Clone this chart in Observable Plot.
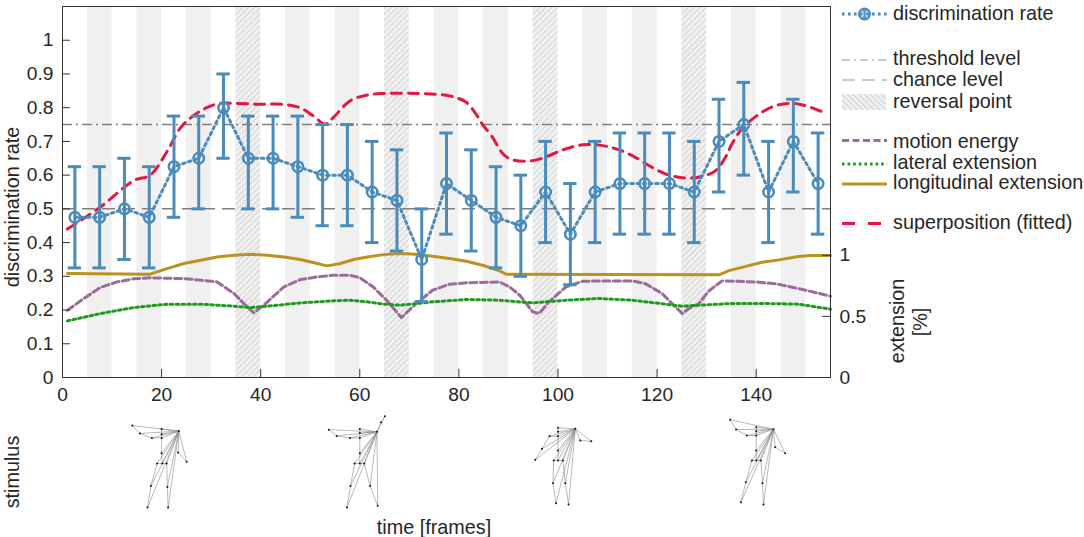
<!DOCTYPE html>
<html>
<head>
<meta charset="utf-8">
<script src="https://cdn.jsdelivr.net/npm/d3@7"></script>
<script src="https://cdn.jsdelivr.net/npm/@observablehq/plot@0.6"></script>
<style>
  body { margin: 0; background: #fff; }
  #wrap { position: relative; width: 1084px; height: 537px; overflow: hidden; background: #fff;
          font-family: "Liberation Sans", Arial, Helvetica, sans-serif; }
  #wrap svg { position: absolute; left: 0; }
</style>
</head>
<body>
<div id="wrap"></div>
<script>
// ---------------- data ----------------
const frames   = [2.5,7.5,12.5,17.5,22.5,27.5,32.5,37.5,42.5,47.5,52.5,57.5,62.5,67.5,72.5,77.5,82.5,87.5,92.5,97.5,102.5,107.5,112.5,117.5,122.5,127.5,132.5,137.5,142.5,147.5,152.5];
const rate     = [0.475,0.475,0.5,0.475,0.625,0.65,0.8,0.65,0.65,0.625,0.6,0.6,0.55,0.525,0.35,0.575,0.525,0.475,0.45,0.55,0.425,0.55,0.575,0.575,0.575,0.55,0.7,0.75,0.55,0.7,0.575];
const rateLow  = [0.325,0.325,0.35,0.325,0.475,0.5,0.65,0.5,0.5,0.475,0.45,0.45,0.4,0.375,0.225,0.425,0.375,0.325,0.3,0.4,0.275,0.4,0.425,0.425,0.425,0.4,0.55,0.6,0.4,0.55,0.425];
const rateHigh = [0.625,0.625,0.65,0.625,0.775,0.775,0.9,0.775,0.775,0.775,0.75,0.75,0.7,0.675,0.5,0.725,0.675,0.625,0.6,0.7,0.575,0.7,0.725,0.725,0.725,0.7,0.825,0.875,0.7,0.825,0.725];

const supX = [1,7.6,14.4,17.7,21.1,23.8,26.4,29.1,31.8,34.5,39.9,44.6,47.9,50.6,53,54.6,58,61.3,64.7,72,78.1,81.5,83.5,84.8,86.8,88.9,90.9,94.9,98.2,101.6,105,108.3,111.7,115,118.4,121.7,125.1,128.4,131.8,133.8,135.1,137.1,140.5,143.9,147.2,150,153.3];
const supY = [0.44,0.505,0.584,0.6,0.67,0.74,0.776,0.8,0.813,0.813,0.81,0.81,0.8,0.776,0.751,0.77,0.82,0.837,0.842,0.842,0.835,0.816,0.78,0.75,0.712,0.663,0.645,0.643,0.658,0.678,0.69,0.689,0.678,0.658,0.628,0.604,0.592,0.594,0.613,0.653,0.692,0.737,0.78,0.806,0.813,0.806,0.788];

// extension-axis series (right axis, 0..1)
const lonX = [1,17.7,21.1,24.5,27.9,31.2,34.6,38,41.3,44.7,48,51.4,53.4,56.1,58.8,61.5,64.8,68,71.5,74.7,78.1,81.5,84.8,88.2,89.5,132.5,134.5,138.5,141.2,144.6,148.5,151,155];
const lonY = [0.85,0.845,0.891,0.932,0.959,0.986,1.0,1.008,1.0,0.986,0.965,0.932,0.913,0.932,0.965,0.986,1.005,1.014,1.008,0.992,0.973,0.951,0.918,0.872,0.845,0.84,0.874,0.915,0.942,0.962,0.99,0.997,0.997];

const latX = [1,7.65,14.4,21.1,27.9,34.6,38,41.3,48,54.7,58,61.5,64.8,68.2,74.7,81.5,88.2,94.9,101.6,108.3,115,121.7,125.1,128.4,135.1,141.8,148.5,155];
const latY = [0.463,0.523,0.572,0.6,0.6,0.583,0.572,0.583,0.61,0.627,0.632,0.619,0.6,0.591,0.619,0.638,0.632,0.61,0.632,0.646,0.632,0.6,0.583,0.591,0.605,0.605,0.6,0.559];

const motX = [1,4.3,7.65,11,14.4,17.7,24.5,27.9,31.2,34.6,36.6,38.6,40.6,42.6,44.7,48,51.4,54.7,58,60,62.7,65.4,68.4,71.4,74.7,78.1,81.5,88.2,90.2,92.3,94.9,96.2,98.2,101.6,105,108.3,115,117.6,121,123.7,125.1,126.4,128.4,130.5,133.1,136.5,140.5,144.1,148.5,155];
const motY = [0.55,0.646,0.736,0.782,0.807,0.815,0.809,0.796,0.782,0.687,0.605,0.529,0.591,0.665,0.741,0.801,0.823,0.837,0.837,0.817,0.741,0.632,0.49,0.605,0.714,0.763,0.774,0.782,0.741,0.673,0.537,0.523,0.619,0.741,0.787,0.79,0.79,0.768,0.687,0.578,0.523,0.564,0.602,0.71,0.79,0.787,0.78,0.765,0.728,0.665];

// background bands (frames)
const grayBandStarts  = [5,15,25,45,55,75,85,105,115,135,145];
const reversalStarts  = [35,65,95,125];
const bandWidth = 5;

const chanceLevel = 0.5;
const thresholdLevel = 0.75;

const xTicks = [0,20,40,60,80,100,120,140];
const yTicks = [0,0.1,0.2,0.3,0.4,0.5,0.6,0.7,0.8,0.9,1];
const extTicks = [0,0.5,1];

// stimulus skeletons: anchor frame, vertical shift (px), joints (px offsets from neck)
const figFrames = [20,60,100,140];
const figShift  = [0,0,-1.2,-1.8];
const figJoints = [
  {A:[-29.3,-3.4],B:[-21.7,4.5],C:[-9.7,9],D:[0,0],E:[0,5.2],F:[0,9],H:[17.2,2.1],S:[0,24.2],hL:[-4.5,34.5],hC:[0.7,34.5],hR:[5.1,34.5],kL:[-10.7,56.9],kR:[5.8,57.9],fL:[-14.1,78.6],fR:[6.5,78.6],eR:[16.5,23.5],wR:[25.1,32.8]},
  {A:[-31,0.7],B:[-23.1,6.9],C:[-9.7,9],D:[0,0],E:[0,4],F:[0,9],H:[17.2,2.8],S:[0,24.2],hL:[-5.2,34.5],hC:[0,34.5],hR:[4.5,34.5],kL:[-9.3,56.9],kR:[10.3,56.9],fL:[-12.8,78.5],fR:[17.9,76.8],eR:[21.3,-6.8],wR:[25.1,-12.7]},
  {A:[-22.7,32],B:[-16,21],C:[-8.4,8.4],D:[0,0],E:[0,4],F:[0,8.5],H:[17.3,1],S:[0,22.7],hL:[-4.3,32.7],hC:[0,32.7],hR:[5,32.7],kL:[-5,55.4],kR:[7.3,55.4],fL:[-2,75.4],fR:[10.6,76.7],eR:[22.3,12.7],wR:[33.3,13.4]},
  {A:[-26,-7.4],B:[-20,2.3],C:[-9.3,8.3],D:[0,0],E:[0,4],F:[0,8.3],H:[17.3,2],S:[0,23.3],hL:[-4.3,33.3],hC:[0,33.3],hR:[4.7,33.3],kL:[-10.3,55],kR:[6.3,56],fL:[-15.3,75],fR:[7.3,77.3],eR:[19,20],wR:[29,26]}
];
const boneList = [["A","B"],["B","C"],["C","F"],["D","E"],["E","F"],["F","S"],["S","hC"],["hL","hC"],["hC","hR"],
  ["hL","kL"],["kL","fL"],["hR","kR"],["kR","fR"],["H","eR"],["eR","wR"],
  ["H","A"],["H","B"],["H","C"],["H","D"],["H","E"],["H","F"],["H","S"],["H","hL"],["H","hC"],["H","hR"],
  ["H","kL"],["H","kR"],["H","fL"],["H","fR"],["H","wR"]];

// ---------------- styles ----------------
const C = {
  blue: "#4a8bbb", red: "#e5173f", purple: "#9a6c9b", green: "#1e9a1e", gold: "#bb921f",
  band: "#f0f0f0", ref: "#7f7f7f", legendRef: "#b8b8b8", text: "#262626"
};
const FONT = "Liberation Sans, Arial, Helvetica, sans-serif";
const W = 1084;
const mL = 62, mR = 254, mT = 6, mB = 33, H1 = 410;
const K = 0.3625;               // extension unit in discrimination-rate units
const fmt = d => String(+(+d).toFixed(2));

// ---------------- tables ----------------
const pts = frames.map((x, i) => ({x, y: rate[i], lo: rateLow[i], hi: rateHigh[i]}));
const sup = supX.map((x, i) => ({x, y: supY[i]}));
const lon = lonX.map((x, i) => ({x, y: lonY[i]}));
const lat = latX.map((x, i) => ({x, y: latY[i]}));
const mot = motX.map((x, i) => ({x, y: motY[i]}));
const grayBands = grayBandStarts.map(s => ({x1: s, x2: s + bandWidth}));
const revBands = reversalStarts.map(s => ({x1: s, x2: s + bandWidth}));
const capHalf = 1.35;           // frames
const tickLenX = 1.6;           // frames
const tickLenY = 0.024;         // rate units

const main = Plot.plot({
  width: W, height: H1,
  marginLeft: mL, marginRight: mR, marginTop: mT, marginBottom: mB,
  x: {domain: [0, 155]},
  y: {domain: [0, 1.1]},
  style: {fontFamily: FONT, fontSize: "19px", color: C.text, background: "transparent", overflow: "visible"},
  marks: [
    Plot.rect(grayBands, {x1: "x1", x2: "x2", y1: 0, y2: 1.1, fill: C.band}),
    Plot.rect(revBands, {x1: "x1", x2: "x2", y1: 0, y2: 1.1, fill: C.band}),
    Plot.rect(revBands, {x1: "x1", x2: "x2", y1: 0, y2: 1.1, fill: "url(#hatchPlot)"}),
    Plot.ruleY([chanceLevel], {stroke: C.ref, strokeWidth: 1.5, strokeDasharray: "13,7"}),
    Plot.ruleY([thresholdLevel], {stroke: C.ref, strokeWidth: 1.5, strokeDasharray: "10,4,2,4"}),
    Plot.line(lon, {x: "x", y: d => d.y * K, stroke: C.gold, strokeWidth: 3}),
    Plot.line(mot, {x: "x", y: d => d.y * K, stroke: C.purple, strokeWidth: 3, strokeDasharray: "7,3.5"}),
    Plot.line(lat, {x: "x", y: d => d.y * K, stroke: C.green, strokeWidth: 3, strokeDasharray: "2.6,3.2"}),
    Plot.line(sup, {x: "x", y: "y", stroke: C.red, strokeWidth: 3, strokeDasharray: "10,7", curve: "catmull-rom"}),
    Plot.line(pts, {x: "x", y: "y", stroke: C.blue, strokeWidth: 3, strokeDasharray: "2.6,3.6"}),
    Plot.ruleX(pts, {x: "x", y1: "lo", y2: "hi", stroke: C.blue, strokeWidth: 3}),
    Plot.ruleY(pts, {y: "lo", x1: d => d.x - capHalf, x2: d => d.x + capHalf, stroke: C.blue, strokeWidth: 3}),
    Plot.ruleY(pts, {y: "hi", x1: d => d.x - capHalf, x2: d => d.x + capHalf, stroke: C.blue, strokeWidth: 3}),
    Plot.dot(pts, {x: "x", y: "y", r: 5.2, stroke: C.blue, strokeWidth: 2.6, fill: "none"}),
    Plot.frame({stroke: "#333", strokeWidth: 1}),
    Plot.ruleY(yTicks, {x1: 0, x2: tickLenX, stroke: "#333", strokeWidth: 1}),
    Plot.ruleX(xTicks, {y1: 0, y2: tickLenY, stroke: "#333", strokeWidth: 1}),
    Plot.ruleY(extTicks.map(v => v * K), {x1: 155 - tickLenX, x2: 155, stroke: "#333", strokeWidth: 1}),
    Plot.axisY({ticks: yTicks, tickSize: 0, tickPadding: 9, tickFormat: fmt, label: null, fontSize: 19.2}),
    Plot.axisY({anchor: "right", ticks: extTicks.map(v => v * K), tickSize: 0, tickPadding: 9, tickFormat: d => fmt(d / K), label: null, fontSize: 19.2}),
    Plot.axisX({ticks: xTicks, tickSize: 0, tickPadding: 10, label: null, fontSize: 19.2})
  ]
});
main.style.top = "0px";

// hatch pattern defs
const defs = d3.select(main).insert("defs", ":first-child");
defs.append("pattern").attr("id", "hatchPlot").attr("patternUnits", "userSpaceOnUse")
  .attr("width", 4.2).attr("height", 4.2).attr("patternTransform", "rotate(45)")
  .append("line").attr("x1", 0.5).attr("y1", 0).attr("x2", 0.5).attr("y2", 4.2)
  .attr("stroke", "#c6c6c6").attr("stroke-width", 0.7);

// ---------------- stimulus strip ----------------
const pxPerFrame = (W - mL - mR) / 155;
const joints = [], bones = [];
figJoints.forEach((J, f) => {
  const jx = n => figFrames[f] + J[n][0] / pxPerFrame;
  const jy = n => J[n][1] + figShift[f];
  Object.keys(J).forEach(n => joints.push({x: jx(n), y: jy(n)}));
  boneList.forEach(([a, b]) => bones.push({x1: jx(a), y1: jy(a), x2: jx(b), y2: jy(b)}));
});
const H2 = 137;
const stim = Plot.plot({
  width: W, height: H2,
  marginLeft: mL, marginRight: mR, marginTop: 0, marginBottom: 0,
  x: {domain: [0, 155], axis: null},
  y: {domain: [-28.5, H2 - 28.5], range: [0, H2], axis: null},
  style: {background: "transparent"},
  marks: [
    Plot.link(bones, {x1: "x1", y1: "y1", x2: "x2", y2: "y2", stroke: "#8a8a8a", strokeWidth: 0.6}),
    Plot.dot(joints, {x: "x", y: "y", r: 1, fill: "#111"})
  ]
});
stim.style.top = "400px";

const wrap = document.getElementById("wrap");
wrap.appendChild(main);
wrap.appendChild(stim);

// ---------------- overlay: labels + legend ----------------
const ov = d3.select(wrap).append("svg").attr("width", W).attr("height", 537)
  .style("top", "0px").style("font-family", FONT).style("font-size", "19.8px").attr("fill", C.text);
const odefs = ov.append("defs");
odefs.append("pattern").attr("id", "hatchLeg").attr("patternUnits", "userSpaceOnUse")
  .attr("width", 4).attr("height", 4).attr("patternTransform", "rotate(-45)")
  .append("line").attr("x1", 0.5).attr("y1", 0).attr("x2", 0.5).attr("y2", 4)
  .attr("stroke", "#c6c6c6").attr("stroke-width", 0.8);

ov.append("text").attr("transform", "translate(18.5,207) rotate(-90)").attr("text-anchor", "middle").text("discrimination rate");
ov.append("text").attr("transform", "translate(18.5,472) rotate(-90)").attr("text-anchor", "middle").text("stimulus");
ov.append("text").attr("x", 434).attr("y", 534).attr("text-anchor", "middle").text("time [frames]");
ov.append("text").attr("transform", "translate(904,321) rotate(-90)").attr("text-anchor", "middle").text("extension");
ov.append("text").attr("transform", "translate(927,322) rotate(-90)").attr("text-anchor", "middle").text("[%]");

const lx0 = 842, lx1 = 887, tx = 893;
const legend = [
  {label: "discrimination rate", ly: 14, ty: 20, kind: "rate"},
  {label: "threshold level", ly: 60, ty: 65, stroke: C.legendRef, dash: "8,4,2,4", w: 1.5},
  {label: "chance level", ly: 80, ty: 86, stroke: C.legendRef, dash: "13,7", w: 1.5},
  {label: "reversal point", ly: 102, ty: 108, kind: "patch"},
  {label: "motion energy", ly: 140.5, ty: 147.5, stroke: C.purple, dash: "7,3.5", w: 3},
  {label: "lateral extension", ly: 164, ty: 168.5, stroke: C.green, dash: "2.6,3", w: 3},
  {label: "longitudinal extension", ly: 184, ty: 189, stroke: C.gold, dash: null, w: 3},
  {label: "superposition (fitted)", ly: 223.5, ty: 229, stroke: C.red, dash: "13,13", w: 3}
];
legend.forEach(d => {
  if (d.kind === "rate") {
    ov.append("line").attr("x1", lx0).attr("x2", lx1).attr("y1", d.ly).attr("y2", d.ly)
      .attr("stroke", C.blue).attr("stroke-width", 3).attr("stroke-dasharray", "2.6,3.4");
    const cx = (lx0 + lx1) / 2;
    ov.append("line").attr("x1", cx).attr("x2", cx).attr("y1", d.ly - 3).attr("y2", d.ly + 3).attr("stroke", C.blue).attr("stroke-width", 2);
    ov.append("line").attr("x1", cx - 2).attr("x2", cx + 2).attr("y1", d.ly - 3).attr("y2", d.ly - 3).attr("stroke", C.blue).attr("stroke-width", 1.5);
    ov.append("line").attr("x1", cx - 2).attr("x2", cx + 2).attr("y1", d.ly + 3).attr("y2", d.ly + 3).attr("stroke", C.blue).attr("stroke-width", 1.5);
    ov.append("circle").attr("cx", cx).attr("cy", d.ly).attr("r", 5.2).attr("fill", "none").attr("stroke", C.blue).attr("stroke-width", 2.6);
  } else if (d.kind === "patch") {
    ov.append("rect").attr("x", lx0).attr("y", d.ly - 8).attr("width", lx1 - lx0 - 1).attr("height", 16).attr("fill", C.band);
    ov.append("rect").attr("x", lx0).attr("y", d.ly - 8).attr("width", lx1 - lx0 - 1).attr("height", 16).attr("fill", "url(#hatchLeg)");
  } else {
    const l = ov.append("line").attr("x1", lx0).attr("x2", lx1).attr("y1", d.ly).attr("y2", d.ly)
      .attr("stroke", d.stroke).attr("stroke-width", d.w);
    if (d.dash) l.attr("stroke-dasharray", d.dash);
  }
  ov.append("text").attr("x", tx).attr("y", d.ty).text(d.label);
});
</script>
</body>
</html>
